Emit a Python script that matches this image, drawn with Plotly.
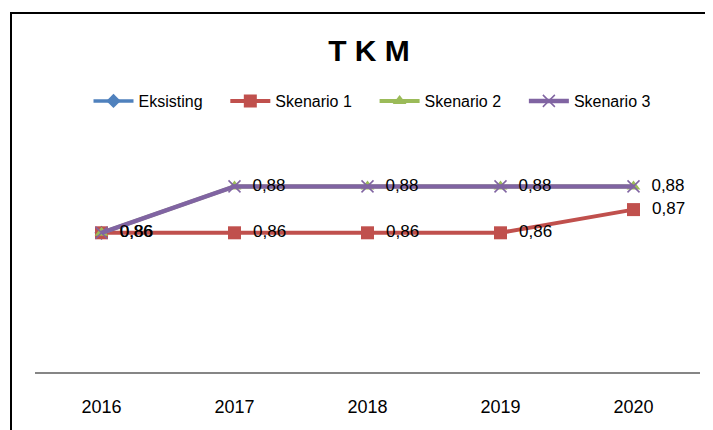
import plotly.graph_objects as go

years = ["2016", "2017", "2018", "2019", "2020"]
eksisting = [0.86, None, None, None, None]
skenario1 = [0.86, 0.86, 0.86, 0.86, 0.87]
skenario2 = [0.86, 0.88, 0.88, 0.88, 0.88]
skenario3 = [0.86, 0.88, 0.88, 0.88, 0.88]

def lab(vals):
    return [("" if v is None else "  " + f"{v:.2f}".replace(".", ",")) for v in vals]

FONT = "Liberation Sans, Arial, sans-serif"
PAD = "\u00a0" * 4
fig = go.Figure()
fig.add_trace(go.Scatter(x=years, y=eksisting, name="Eksisting" + PAD, mode="lines+markers",
                         line=dict(color="#4F81BD", width=3.5),
                         marker=dict(symbol="diamond", size=11, color="#4F81BD")))
fig.add_trace(go.Scatter(x=years, y=skenario1, name="Skenario 1" + PAD, mode="lines+markers+text",
                         line=dict(color="#C0504D", width=4),
                         marker=dict(symbol="square", size=13, color="#C0504D"),
                         text=lab(skenario1), textposition="middle right",
                         textfont=dict(size=17, color="black", family=FONT)))
fig.add_trace(go.Scatter(x=years, y=skenario2, name="Skenario 2" + PAD, mode="lines+markers",
                         line=dict(color="#9BBB59", width=4),
                         marker=dict(symbol="triangle-up", size=12, color="#9BBB59")))
fig.add_trace(go.Scatter(x=years, y=skenario3, name="Skenario 3", mode="lines+markers+text",
                         line=dict(color="#8064A2", width=4.5),
                         marker=dict(symbol="x-thin-open", size=12,
                                     line=dict(color="#8064A2", width=1.5)),
                         text=lab(skenario3), textposition="middle right",
                         textfont=dict(size=17, color="black", family=FONT)))

# page body margin offsets the figure by 8px
OX, OY = 8, 8
W, H = 713 - OX, 430 - OY
L, R, T, B = 35 - OX, 13, 140 - OY, 58
pw, ph = W - L - R, H - T - B

def px(x):
    return (x - OX - L) / pw

def py(y):
    return 1 - (y - OY - T) / ph

fig.update_layout(
    width=W, height=H,
    margin=dict(l=L, r=R, t=T, b=B, autoexpand=False),
    paper_bgcolor="white", plot_bgcolor="white",
    font=dict(family=FONT, color="black"),
    title=dict(text="<b>T K M</b>", x=px(369), xref="paper", xanchor="center",
               y=1 - (50 - OY) / H, yanchor="middle", font=dict(size=30, color="black")),
    showlegend=True,
    legend=dict(orientation="h", x=px(372), xanchor="center",
                y=py(101), yanchor="middle",
                font=dict(size=16, color="black"), traceorder="normal",
                itemwidth=40, bgcolor="rgba(0,0,0,0)"),
    xaxis=dict(type="category", range=[-0.5, 4.5], showgrid=False, showline=True,
               linecolor="#868686", linewidth=1.5, ticks="", ticklabelstandoff=18,
               tickfont=dict(size=18, color="black"), zeroline=False),
    yaxis=dict(range=[0.80, 0.90], visible=False, showgrid=False, zeroline=False),
    shapes=[dict(type="path", xref="paper", yref="paper",
                 path=f"M {px(730)} {py(13)} L {px(11)} {py(13)} L {px(11)} {py(440)}",
                 line=dict(color="black", width=2))],
)
fig.update_traces(cliponaxis=False)
fig.write_html("out.html")
